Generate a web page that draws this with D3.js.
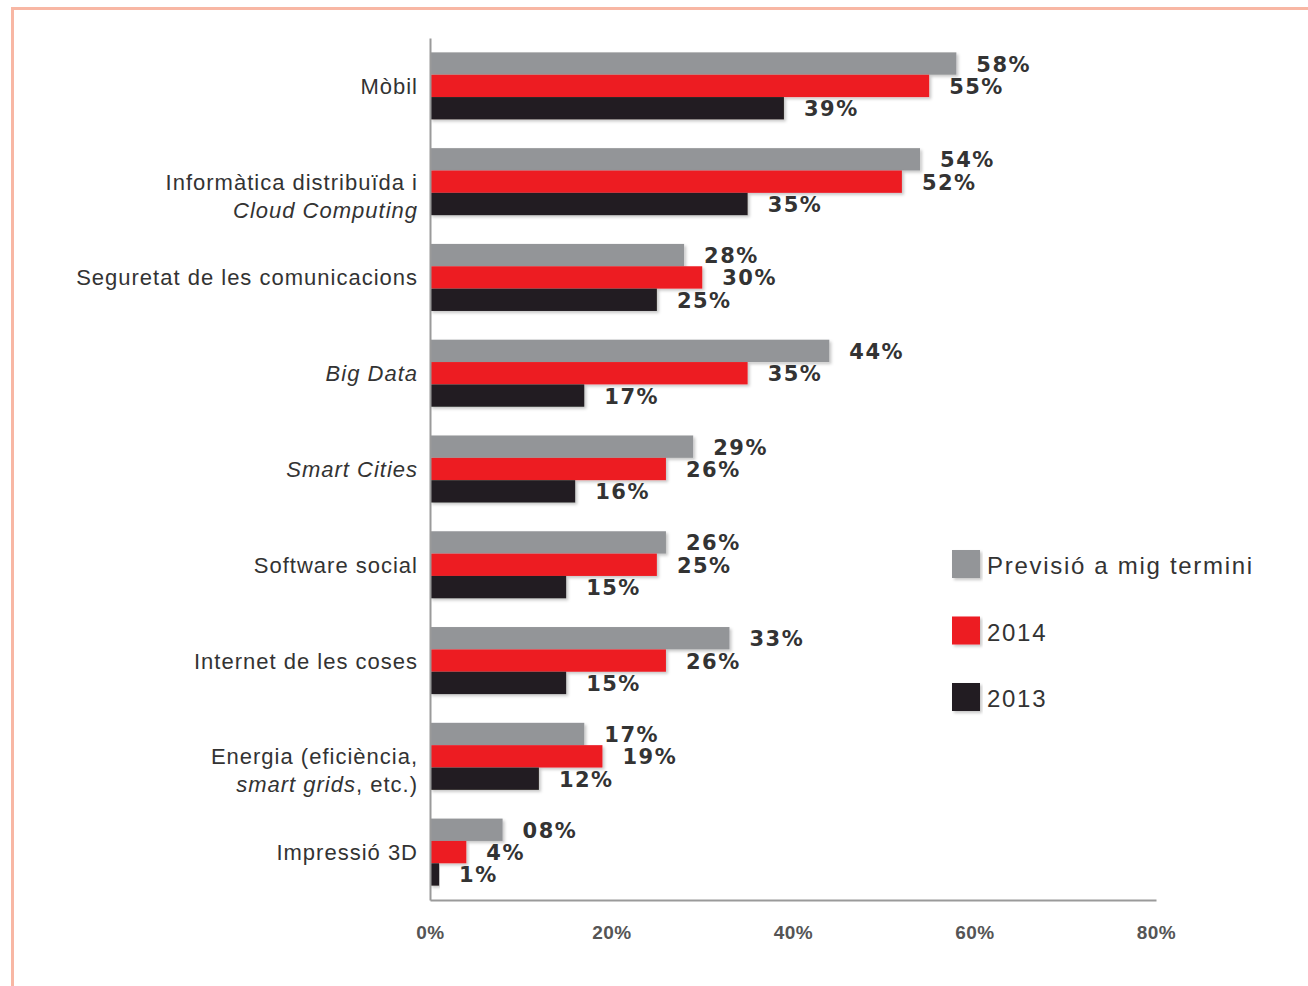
<!DOCTYPE html>
<html>
<head>
<meta charset="utf-8">
<script src="https://cdn.jsdelivr.net/npm/d3@7"></script>
<style>
  body { margin: 0; background: #fff; }
  svg { display: block; }
</style>
</head>
<body>
<div id="chart"></div>
<script>
// categories (each label split in lines; second item of a piece = italic)
var categories = ["mobil", "cloud", "seguretat", "bigdata", "smart", "social", "iot", "energia", "3d"];
var categoryLines = [
  [[["Mòbil", false]]],
  [[["Informàtica distribuïda i", false]], [["Cloud Computing", true]]],
  [[["Seguretat de les comunicacions", false]]],
  [[["Big Data", true]]],
  [[["Smart Cities", true]]],
  [[["Software social", false]]],
  [[["Internet de les coses", false]]],
  [[["Energia (eficiència,", false]], [["smart grids", true], [", etc.)", false]]],
  [[["Impressió 3D", false]]]
];

// series values (%)
var previsio = [58, 54, 28, 44, 29, 26, 33, 17, 8];
var y2014    = [55, 52, 30, 35, 26, 25, 26, 19, 4];
var y2013    = [39, 35, 25, 17, 16, 15, 15, 12, 1];

var seriesNames = ["Previsió a mig termini", "2014", "2013"];
var seriesColors = ["#939598", "#ed1c24", "#231f20"];

var tickValues = [0, 20, 40, 60, 80];
var tickLabels = ["0%", "20%", "40%", "60%", "80%"];

var W = 1308, H = 986;

var svg = d3.select("#chart").append("svg")
    .attr("width", W)
    .attr("height", H);

// soft shadow like the print original
var defs = svg.append("defs");
var f = defs.append("filter").attr("id", "shadow")
    .attr("x", "-5%").attr("y", "-20%").attr("width", "115%").attr("height", "160%");
f.append("feDropShadow")
    .attr("dx", 2).attr("dy", 2).attr("stdDeviation", 1.5)
    .attr("flood-color", "#000").attr("flood-opacity", 0.22);

// salmon frame
svg.append("rect")
    .attr("x", 12.5).attr("y", 8.5)
    .attr("width", W + 20).attr("height", H + 20)
    .attr("fill", "none")
    .attr("stroke", "#f8b7a4")
    .attr("stroke-width", 3);

var x = d3.scaleLinear().domain([0, 80]).range([430, 1156]);

var y = d3.scaleBand()
    .domain(categories)
    .range([38, 900])
    .paddingInner(0.3)
    .paddingOuter(0.15);

var ySub = d3.scaleBand()
    .domain(seriesNames)
    .range([0, y.bandwidth()]);

var seriesData = [previsio, y2014, y2013];
var fmt = [d3.format("02d"), d3.format("d"), d3.format("d")];

// bars
seriesNames.forEach(function(name, si) {
  var g = svg.append("g");
  g.selectAll("rect")
    .data(seriesData[si])
    .enter().append("rect")
      .attr("x", x(0))
      .attr("y", function(d, i) { return y(categories[i]) + ySub(name); })
      .attr("width", function(d) { return x(d) - x(0); })
      .attr("height", ySub.bandwidth())
      .attr("fill", seriesColors[si])
      .attr("filter", "url(#shadow)");

  g.selectAll("text")
    .data(seriesData[si])
    .enter().append("text")
      .attr("x", function(d) { return x(d) + 20; })
      .attr("y", function(d, i) { return y(categories[i]) + ySub(name) + ySub.bandwidth() / 2 + 8; })
      .attr("font-family", "DejaVu Sans, Verdana, sans-serif")
      .attr("font-weight", "bold")
      .attr("font-size", 21)
      .attr("letter-spacing", 1.5)
      .attr("fill", "#333")
      .text(function(d) { return fmt[si](d) + "%"; });
});

// axes
var xAxis = svg.append("g")
    .attr("transform", "translate(0,900)")
    .call(d3.axisBottom(x).tickValues(tickValues).tickSize(0)
      .tickFormat(function(d, i) { return tickLabels[i]; }));
xAxis.select(".domain").attr("stroke", "#9a9a9a").attr("stroke-width", 2);
xAxis.selectAll("text")
    .attr("dy", 0)
    .attr("y", 39)
    .attr("font-family", "Liberation Sans, Arial, sans-serif")
    .attr("font-weight", "bold")
    .attr("font-size", 19)
    .attr("letter-spacing", 0.5)
    .attr("fill", "#555");

var yAxis = svg.append("g")
    .attr("transform", "translate(430,0)")
    .call(d3.axisLeft(y).tickSize(0).tickFormat(""));
yAxis.select(".domain").attr("stroke", "#9a9a9a").attr("stroke-width", 2);

// category labels
categories.forEach(function(c, i) {
  var cy = y(c) + y.bandwidth() / 2 + 8;
  var t = svg.append("text")
      .attr("text-anchor", "end")
      .attr("font-family", "Liberation Sans, Arial, sans-serif")
      .attr("font-size", 22)
      .attr("letter-spacing", 1)
      .attr("fill", "#333");
  categoryLines[i].forEach(function(line, li) {
    line.forEach(function(piece, pi) {
      var ts = t.append("tspan")
          .attr("font-style", piece[1] ? "italic" : "normal")
          .text(piece[0]);
      if (pi === 0) ts.attr("x", 418).attr("y", cy + li * 28);
    });
  });
});

// legend
var legend = svg.append("g").attr("transform", "translate(952,550)");
seriesNames.forEach(function(name, i) {
  var row = legend.append("g").attr("transform", "translate(0," + (i * 66.5) + ")");
  row.append("rect")
      .attr("width", 28).attr("height", 28)
      .attr("fill", seriesColors[i])
      .attr("filter", "url(#shadow)");
  row.append("text")
      .attr("x", 35).attr("y", 24)
      .attr("font-family", "Liberation Sans, Arial, sans-serif")
      .attr("font-size", 24)
      .attr("letter-spacing", 1.7)
      .attr("fill", "#333")
      .text(name);
});
</script>
</body>
</html>
